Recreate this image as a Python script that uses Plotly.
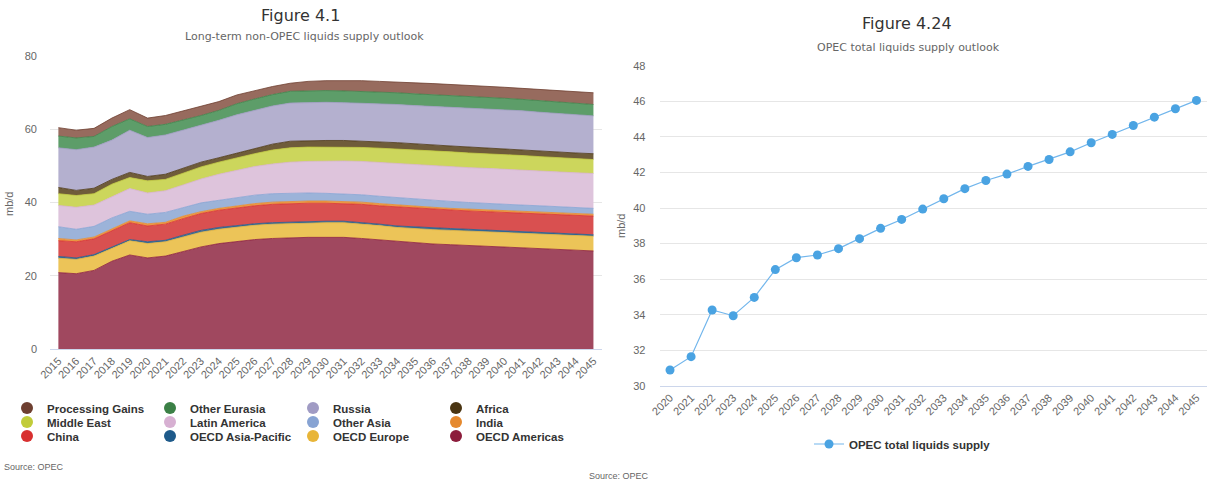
import plotly.graph_objects as go

W, H = 1210, 483

def px(x):
    return x / W

def py(y):
    return 1 - y / H

# ---------------- data: left chart (non-OPEC supply, mb/d) ----------------
years_left = list(range(2015, 2046))

oecd_americas = [20.9, 20.6, 21.5, 24.0, 25.7, 24.9, 25.4, 26.7, 27.9, 28.8, 29.4, 29.9, 30.2, 30.4, 30.5, 30.5,
                 30.5, 30.2, 29.8, 29.3, 28.9, 28.7, 28.5, 28.3, 28.1, 27.9, 27.7, 27.5, 27.3, 27.0, 26.8]
oecd_europe = [3.9, 3.9, 3.9, 3.5, 3.9, 3.9, 3.9, 3.9, 4.0, 3.9, 3.9, 3.9, 3.9, 3.9, 3.9, 4.0,
               4.0, 4.0, 3.9, 3.9, 3.9, 3.9, 3.9, 3.9, 3.9, 3.9, 3.9, 3.9, 3.9, 4.0, 4.0]
oecd_asia_pacific = [0.5, 0.4, 0.4, 0.4, 0.3, 0.5, 0.4, 0.5, 0.5, 0.5, 0.5, 0.4, 0.4, 0.4, 0.4, 0.4,
                     0.4, 0.4, 0.4, 0.4, 0.5, 0.5, 0.5, 0.5, 0.5, 0.5, 0.5, 0.5, 0.4, 0.4, 0.4]
china = [4.3, 4.4, 4.3, 4.4, 4.6, 4.3, 4.4, 4.5, 4.6, 4.7, 4.8, 4.9, 5.0, 5.0, 5.0, 4.9,
         4.8, 4.9, 5.0, 5.2, 5.1, 5.1, 5.0, 5.0, 5.0, 5.0, 5.0, 5.0, 5.1, 5.1, 5.1]
india = [0.6, 0.5, 0.5, 0.5, 0.5, 0.6, 0.5, 0.7, 0.5, 0.5, 0.5, 0.6, 0.6, 0.6, 0.6, 0.6,
         0.6, 0.6, 0.6, 0.5, 0.5, 0.5, 0.5, 0.5, 0.5, 0.5, 0.5, 0.5, 0.5, 0.5, 0.5]
other_asia = [3.2, 2.9, 2.9, 3.0, 2.6, 2.6, 2.7, 2.4, 2.4, 2.2, 2.3, 2.3, 2.3, 2.3, 2.2, 2.1,
              2.1, 2.0, 2.0, 2.0, 2.0, 1.9, 1.9, 1.8, 1.7, 1.7, 1.7, 1.7, 1.7, 1.6, 1.6]
latin_america = [5.8, 6.0, 5.8, 5.8, 6.2, 5.8, 5.9, 6.1, 6.5, 7.1, 7.4, 7.8, 8.1, 8.4, 8.6, 8.8,
                 8.9, 9.1, 9.2, 9.3, 9.3, 9.4, 9.5, 9.5, 9.6, 9.6, 9.5, 9.5, 9.5, 9.5, 9.5]
middle_east = [3.2, 3.2, 3.1, 3.4, 3.0, 3.3, 3.1, 3.3, 3.3, 3.3, 3.4, 3.5, 3.8, 3.9, 3.9, 3.8,
               3.8, 3.8, 3.9, 4.0, 4.0, 4.0, 4.0, 4.0, 4.0, 3.9, 4.0, 3.9, 3.8, 3.9, 3.8]
africa = [1.7, 1.4, 1.5, 1.3, 1.4, 1.2, 1.4, 1.2, 1.3, 1.2, 1.3, 1.4, 1.6, 1.8, 1.8, 1.8,
          1.8, 1.8, 1.7, 1.7, 1.7, 1.7, 1.6, 1.6, 1.6, 1.6, 1.5, 1.5, 1.6, 1.5, 1.6]
russia = [10.8, 11.1, 11.2, 10.7, 11.5, 10.6, 10.7, 10.4, 10.0, 10.2, 10.4, 10.4, 10.4, 10.4, 10.4, 10.4,
          10.3, 10.3, 10.4, 10.4, 10.5, 10.5, 10.6, 10.7, 10.7, 10.7, 10.7, 10.6, 10.5, 10.4, 10.3]
other_eurasia = [3.2, 3.2, 2.9, 3.7, 3.1, 3.0, 2.9, 2.7, 2.7, 2.7, 3.0, 3.1, 3.1, 3.2, 3.2, 3.2,
                 3.2, 3.2, 3.2, 3.2, 3.2, 3.2, 3.2, 3.1, 3.1, 3.1, 3.1, 3.1, 3.1, 3.1, 3.1]
processing_gains = [2.3, 2.1, 2.2, 2.3, 2.5, 2.3, 2.4, 2.5, 2.5, 2.4, 2.4, 2.3, 2.2, 2.2, 2.5, 2.7,
                    2.9, 2.9, 2.9, 2.8, 3.0, 3.0, 3.0, 3.0, 3.0, 3.0, 3.0, 3.1, 3.1, 3.2, 3.2]

# bottom -> top stacking order
series_names = ["OECD Americas", "OECD Europe", "OECD Asia-Pacific", "China", "India", "Other Asia",
                "Latin America", "Middle East", "Africa", "Russia", "Other Eurasia", "Processing Gains"]
series_values = [oecd_americas, oecd_europe, oecd_asia_pacific, china, india, other_asia,
                 latin_america, middle_east, africa, russia, other_eurasia, processing_gains]

# ---------------- data: right chart (OPEC total liquids supply, mb/d) ----------------
years_right = list(range(2020, 2046))
opec_supply = [30.9, 31.65, 34.27, 33.95, 34.98, 36.54, 37.21, 37.36, 37.72, 38.28, 38.86, 39.36, 39.94,
               40.52, 41.09, 41.55, 41.91, 42.34, 42.73, 43.16, 43.67, 44.14, 44.64, 45.11, 45.58, 46.05]

# ---------------- styles ----------------
line_colors = ["#8c1c3c", "#e8b538", "#1e5a8a", "#d83030", "#e5892e", "#87a3d3",
               "#d7b0d2", "#c1cc3a", "#4a3512", "#a09bc4", "#3b8046", "#6e3f30"]
fill_colors = ["#a0485f", "#ecc458", "#3d6e98", "#d95050", "#eb9a46", "#9cb3d9",
               "#dec4dc", "#ccd65c", "#6f5c3a", "#b4b0cf", "#5d9d69", "#976b5e"]
legend_ids = ["legend3"] * 4 + ["legend2"] * 4 + ["legend"] * 4

FONT = "Liberation Sans, Arial, sans-serif"
TFONT = "DejaVu Sans, sans-serif"
TICK_FONT = dict(family=FONT, size=11, color="#666666")
LEG_FONT = dict(family=FONT, size=11.5, color="#333333", weight="bold")

fig = go.Figure()

for name, vals, lc, fc in zip(series_names, series_values, line_colors, fill_colors):
    fig.add_trace(go.Scatter(
        x=years_left, y=vals, name=name, mode="lines", stackgroup="nonopec",
        line=dict(color=lc, width=0.8), fillcolor=fc, showlegend=False,
        xaxis="x", yaxis="y", hoverinfo="x+y+name"))

for name, lc, lg in zip(series_names, line_colors, legend_ids):
    fig.add_trace(go.Scatter(
        x=[None], y=[None], name=name, mode="markers",
        marker=dict(color=lc, size=12, symbol="circle"),
        showlegend=True, legend=lg, xaxis="x", yaxis="y"))

fig.add_trace(go.Scatter(
    x=years_right, y=opec_supply, name="OPEC total liquids supply", mode="lines+markers",
    line=dict(color="#72b6ec", width=1.2),
    marker=dict(color="#4aa3e2", size=9),
    xaxis="x2", yaxis="y2", legend="legend4"))

grid = "#e6e6e6"
leg_common = dict(orientation="h", xanchor="left", yanchor="middle", font=LEG_FONT,
                  bgcolor="rgba(0,0,0,0)", itemclick=False, itemdoubleclick=False)
fig.update_layout(
    width=W, height=H,
    margin=dict(l=0, r=0, t=0, b=0, autoexpand=False),
    paper_bgcolor="white", plot_bgcolor="white",
    font=dict(family=FONT, color="#333333"),
    xaxis=dict(domain=[px(50), px(602)], range=[2014.53, 2045.48], tickmode="array",
               tickvals=years_left, ticktext=[str(y) for y in years_left], tickangle=-45,
               tickfont=TICK_FONT, showgrid=False, zeroline=False, showline=True,
               linecolor="#ccd6eb", linewidth=1, ticks="", automargin=False),
    yaxis=dict(domain=[py(349.3), py(55.7)], range=[0, 80], tickmode="array",
               tickvals=[0, 20, 40, 60, 80], tickfont=TICK_FONT, showgrid=True, gridcolor=grid,
               gridwidth=1, zeroline=False, showline=False, ticks="", ticklabelstandoff=12,
               automargin=False),
    xaxis2=dict(domain=[px(659.5), px(1207)], range=[2019.5, 2045.5], tickmode="array",
                tickvals=years_right, ticktext=[str(y) for y in years_right], tickangle=-45,
                tickfont=TICK_FONT, showgrid=False, zeroline=False, showline=True,
                linecolor="#ccd6eb", linewidth=1, ticks="", anchor="y2", automargin=False),
    yaxis2=dict(domain=[py(386), py(65.7)], range=[30, 48], tickmode="array",
                tickvals=list(range(30, 49, 2)), tickfont=TICK_FONT, showgrid=True,
                gridcolor=grid, gridwidth=1, zeroline=False, showline=False, ticks="",
                anchor="x2", ticklabelstandoff=13, automargin=False),
    legend=dict(x=px(7), y=py(408), entrywidth=98, traceorder="reversed", **leg_common),
    legend2=dict(x=px(7), y=py(422), entrywidth=98, traceorder="reversed", **leg_common),
    legend3=dict(x=px(7), y=py(436), entrywidth=98, traceorder="reversed", **leg_common),
    legend4=dict(x=px(809), y=py(444), **leg_common),
    showlegend=True,
)

annotations = [
    dict(text="Figure 4.1", x=px(300), y=py(16), font=dict(family=TFONT, size=16, color="#333333")),
    dict(text="Long-term non-OPEC liquids supply outlook", x=px(304), y=py(37),
         font=dict(family=TFONT, size=11, color="#666666")),
    dict(text="Figure 4.24", x=px(907), y=py(24), font=dict(family=TFONT, size=16, color="#333333")),
    dict(text="OPEC total liquids supply outlook", x=px(908), y=py(47),
         font=dict(family=TFONT, size=11, color="#666666")),
    dict(text="mb/d", x=px(9), y=py(204), textangle=-90, font=dict(family=FONT, size=11, color="#666666")),
    dict(text="mb/d", x=px(621), y=py(226), textangle=-90, font=dict(family=FONT, size=11, color="#666666")),
    dict(text="Source: OPEC", x=px(2), y=py(467), xanchor="left",
         font=dict(family=FONT, size=9, color="#666666")),
    dict(text="Source: OPEC", x=px(651), y=py(476), xanchor="right",
         font=dict(family=FONT, size=9, color="#666666")),
]
for a in annotations:
    a.setdefault("xanchor", "center")
    a.update(xref="paper", yref="paper", yanchor="middle", showarrow=False)
fig.update_layout(annotations=annotations)

fig.write_html("out.html")
